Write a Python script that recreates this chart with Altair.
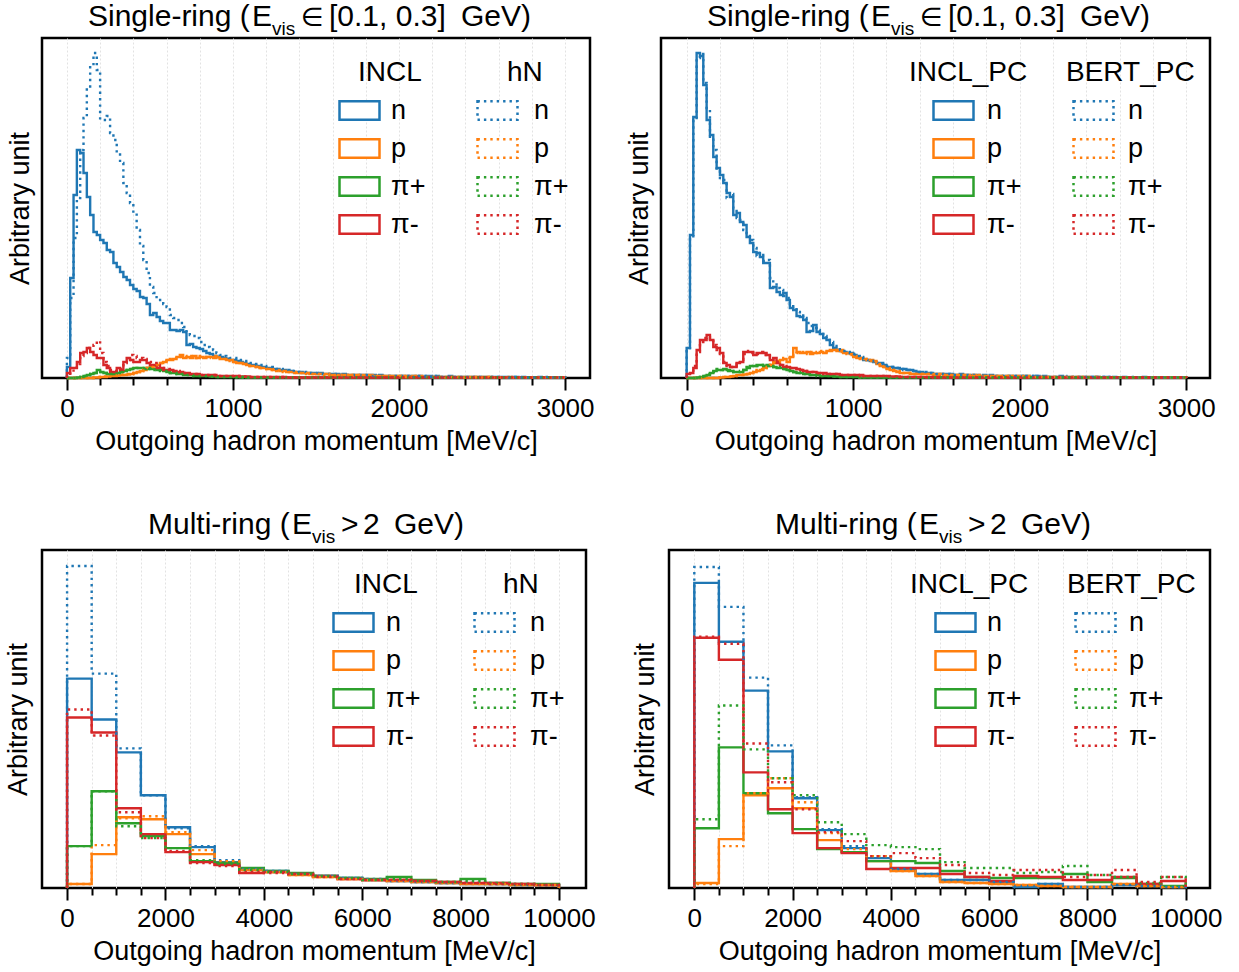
import altair as alt
import pandas as pd

PARTICLES = ["n", "p", "π+", "π-"]
COLORS = ["#1f77b4", "#ff7f0e", "#2ca02c", "#d62728"]
TOP_EDGES = list(range(0, 3001, 20))
BOT_EDGES = list(range(0, 10001, 500))
TOP_TICKS = list(range(0, 3001, 200))
BOT_TICKS = list(range(0, 10001, 500))

# ---------------- Single-ring, INCL (solid) vs hN (dotted) ----------------
TL_INCL_n = [
    11, 100, 183, 228, 225, 205, 181, 163, 146, 143,
    138, 135, 128, 126, 115, 111, 106, 101, 98, 93,
    89, 87, 81, 80, 74, 63, 65, 61, 57, 55,
    55, 48, 48, 47, 48, 46, 33, 34, 31, 30,
    29, 27, 25, 24, 22, 21, 21, 20, 19, 18,
    18, 17, 16, 15, 14, 13, 13, 12, 11, 11,
    10, 10, 9, 9, 8, 8, 7, 7, 6, 6,
    6, 5, 5, 5, 5, 4, 5, 4, 4, 4,
    4, 4, 3, 4, 3, 3, 3, 3, 3, 3,
    3, 3, 3, 2, 3, 2, 2, 2, 2, 2,
    2, 2, 2, 2, 2, 2, 2, 1, 2, 2,
    1, 2, 1, 1, 1, 2, 1, 1, 1, 1,
    1, 1, 1, 1, 1, 1, 1, 1, 1, 1,
    1, 1, 1, 0.5, 1, 1, 0.5, 1, 0.5, 0.5,
    0.5, 0.5, 1, 0.5, 0.5, 0.5, 0.5, 0.5, 0.5, 0.5]
TL_hN_n = [
    20, 80, 140, 180, 228, 260, 290, 312, 325, 308,
    258, 258, 262, 245, 238, 225, 215, 195, 185, 175,
    165, 148, 132, 118, 105, 91, 85, 78, 78, 74,
    71, 63, 60, 58, 55, 51, 46, 43, 42, 40,
    36, 33, 31, 30, 28, 25, 23, 22, 21, 20,
    20, 19, 18, 17, 16, 15, 14, 13, 13, 12,
    11, 11, 10, 9, 9, 8, 8, 7, 7, 6,
    6, 6, 5, 5, 5, 5, 4, 4, 4, 4,
    4, 4, 3, 3, 3, 3, 3, 3, 3, 3,
    3, 2, 3, 2, 2, 2, 2, 2, 2, 2,
    2, 2, 2, 2, 1, 2, 2, 2, 1, 1,
    2, 1, 1, 1, 1, 1, 1, 1, 1, 1,
    1, 1, 1, 1, 1, 1, 0.5, 1, 1, 1,
    1, 0.5, 1, 0.5, 0.5, 1, 0.5, 0.5, 0.5, 0.5,
    0.5, 0.5, 0.5, 0.5, 1, 0.5, 0.5, 0.5, 0.5, 0.5]
TL_INCL_p = [
    0, 0, 0, 0, 0, 0, 0, 0, 0.5, 0.5,
    1, 1, 1.5, 2, 2, 2.5, 3, 3, 3.5, 4,
    5, 6, 7, 8, 10, 11, 12, 13, 15, 16,
    18, 18, 19, 21, 23, 20, 21, 20, 22, 20,
    21, 20, 21, 21, 20, 21, 19, 19, 18, 18,
    16, 15, 15, 14, 13, 12, 12, 11, 10, 10,
    9, 9, 8, 8, 7, 7, 6, 6, 6, 5,
    5, 5, 5, 4, 4, 4, 4, 4, 4, 3,
    3, 3, 3, 3, 3, 3, 3, 3, 2, 3,
    2, 3, 2, 2, 2, 2, 2, 2, 2, 2,
    2, 2, 2, 1, 2, 1, 2, 1, 1, 1,
    1, 1, 1, 1, 1, 1, 1, 0.5, 1, 1,
    1, 0.5, 1, 1, 0.5, 1, 0.5, 1, 0.5, 0.5,
    0.5, 0.5, 0.5, 1, 0.5, 0.5, 0.5, 0.5, 0.5, 0.5,
    0.5, 0.5, 0.5, 0.5, 0.5, 0.5, 0.5, 0.5, 0.5, 0.5]
TL_hN_p = [
    0, 0, 0, 0, 0, 0, 0, 0, 0.5, 1,
    1, 1.5, 2, 2, 2.5, 3, 3, 3.5, 4, 4,
    5, 6, 7, 9, 10, 11, 13, 14, 15, 17,
    18, 19, 20, 20, 21, 22, 21, 22, 20, 21,
    22, 21, 20, 21, 22, 20, 20, 19, 18, 17,
    16, 16, 15, 14, 13, 12, 11, 11, 10, 9,
    9, 8, 8, 7, 7, 6, 6, 6, 5, 5,
    5, 5, 4, 4, 4, 4, 4, 3, 4, 3,
    3, 3, 3, 3, 3, 2, 3, 3, 2, 2,
    2, 2, 2, 2, 2, 2, 2, 2, 1, 2,
    2, 1, 2, 1, 1, 2, 1, 1, 1, 1,
    1, 1, 1, 1, 0.5, 1, 1, 1, 1, 0.5,
    1, 1, 0.5, 1, 0.5, 0.5, 1, 0.5, 0.5, 0.5,
    0.5, 0.5, 0.5, 0.5, 0.5, 0.5, 0.5, 0.5, 0.5, 0.5,
    0.5, 0.5, 0.5, 0.5, 0.5, 0.5, 0.5, 0.5, 0.5, 0.5]
TL_INCL_pip = [
    0, 0, 0, 0.5, 1, 2, 3, 4, 5, 8,
    6, 5, 4, 4, 4, 5, 6, 7, 8, 9,
    10, 10, 10, 9, 10, 9, 9, 8, 8, 7,
    6, 5, 5, 4, 4, 3, 3, 3, 2, 2,
    2, 2, 2, 1.5, 1.5, 1, 1, 1, 1, 1,
    1, 1, 0.5, 1, 0.5, 0.5, 0.5, 0.5, 0.5, 0.5,
    0.5, 0.5, 0.5, 0.5, 0.5, 0.5, 0.5, 0.5, 0.5, 0.5,
    0.5, 0.5, 0.5, 0.5, 0.5, 0.5, 0.5, 0.5, 0.5, 0.5,
    0.5, 0.5, 0.5, 0.5, 0.5, 0.5, 0.5, 0.5, 0.5, 0.5,
    0.5, 0.5, 0.5, 0.5, 0.5, 0.5, 0.5, 0.5, 0.5, 0.5,
    0.5, 0.5, 0.5, 0.5, 0.5, 0.5, 0.5, 0.5, 0.5, 0.5,
    0.5, 0.5, 0.5, 0.5, 0.5, 0.5, 0.5, 0.5, 0.5, 0.5,
    0.5, 0.5, 0.5, 0.5, 0.5, 0.5, 0.5, 0.5, 0.5, 0.5,
    0.5, 0.5, 0.5, 0.5, 0.5, 0.5, 0.5, 0.5, 0.5, 0.5,
    0.5, 0.5, 0.5, 0.5, 0.5, 0.5, 0.5, 0.5, 0.5, 0.5]
TL_hN_pip = [
    0, 0, 0, 0.5, 1, 2, 3, 4, 5, 6,
    6, 5, 4, 4, 5, 5, 6, 7, 8, 9,
    9, 10, 10, 10, 9, 9, 8, 8, 7, 7,
    6, 5, 5, 4, 4, 3, 3, 3, 2, 2,
    2, 2, 2, 1.5, 1.5, 1, 1, 1, 1, 1,
    1, 0.5, 1, 0.5, 0.5, 0.5, 0.5, 0.5, 0.5, 0.5,
    0.5, 0.5, 0.5, 0.5, 0.5, 0.5, 0.5, 0.5, 0.5, 0.5,
    0.5, 0.5, 0.5, 0.5, 0.5, 0.5, 0.5, 0.5, 0.5, 0.5,
    0.5, 0.5, 0.5, 0.5, 0.5, 0.5, 0.5, 0.5, 0.5, 0.5,
    0.5, 0.5, 0.5, 0.5, 0.5, 0.5, 0.5, 0.5, 0.5, 0.5,
    0.5, 0.5, 0.5, 0.5, 0.5, 0.5, 0.5, 0.5, 0.5, 0.5,
    0.5, 0.5, 0.5, 0.5, 0.5, 0.5, 0.5, 0.5, 0.5, 0.5,
    0.5, 0.5, 0.5, 0.5, 0.5, 0.5, 0.5, 0.5, 0.5, 0.5,
    0.5, 0.5, 0.5, 0.5, 0.5, 0.5, 0.5, 0.5, 0.5, 0.5,
    0.5, 0.5, 0.5, 0.5, 0.5, 0.5, 0.5, 0.5, 0.5, 0.5]
TL_INCL_pim = [
    5, 10, 10, 16, 25, 26, 30, 26, 23, 20,
    20, 13, 10, 6, 6, 10, 8, 16, 20, 18,
    16, 16, 18, 18, 15, 13, 13, 10, 10, 8,
    8, 8, 7, 6, 6, 5, 5, 4, 4, 4,
    3, 3, 3, 3, 3, 2, 2, 2, 2, 2,
    2, 2, 1.5, 1.5, 1.5, 1, 1, 1, 1, 1,
    1, 1, 1, 1, 0.5, 1, 0.5, 0.5, 0.5, 0.5,
    0.5, 0.5, 0.5, 0.5, 0.5, 0.5, 0.5, 0.5, 0.5, 0.5,
    0.5, 0.5, 0.5, 0.5, 0.5, 0.5, 0.5, 0.5, 0.5, 0.5,
    0.5, 0.5, 0.5, 0.5, 0.5, 0.5, 0.5, 0.5, 0.5, 0.5,
    0.5, 0.5, 0.5, 0.5, 0.5, 0.5, 0.5, 0.5, 0.5, 0.5,
    0.5, 0.5, 0.5, 0.5, 0.5, 0.5, 0.5, 0.5, 0.5, 0.5,
    0.5, 0.5, 0.5, 0.5, 0.5, 0.5, 0.5, 0.5, 0.5, 0.5,
    0.5, 0.5, 0.5, 0.5, 0.5, 0.5, 0.5, 0.5, 0.5, 0.5,
    0.5, 0.5, 0.5, 0.5, 0.5, 0.5, 0.5, 0.5, 0.5, 0.5]
TL_hN_pim = [
    3, 6, 9, 14, 22, 25, 30, 30, 33, 37,
    25, 16, 12, 8, 7, 8, 9, 15, 18, 23,
    22, 20, 20, 19, 18, 16, 15, 13, 11, 10,
    9, 8, 7, 7, 6, 5, 5, 4, 4, 4,
    3, 3, 3, 3, 3, 2, 2, 2, 2, 2,
    2, 2, 2, 1.5, 1.5, 1, 1, 1, 1, 1,
    1, 1, 1, 0.5, 1, 0.5, 0.5, 0.5, 0.5, 0.5,
    0.5, 0.5, 0.5, 0.5, 0.5, 0.5, 0.5, 0.5, 0.5, 0.5,
    0.5, 0.5, 0.5, 0.5, 0.5, 0.5, 0.5, 0.5, 0.5, 0.5,
    0.5, 0.5, 0.5, 0.5, 0.5, 0.5, 0.5, 0.5, 0.5, 0.5,
    0.5, 0.5, 0.5, 0.5, 0.5, 0.5, 0.5, 0.5, 0.5, 0.5,
    0.5, 0.5, 0.5, 0.5, 0.5, 0.5, 0.5, 0.5, 0.5, 0.5,
    0.5, 0.5, 0.5, 0.5, 0.5, 0.5, 0.5, 0.5, 0.5, 0.5,
    0.5, 0.5, 0.5, 0.5, 0.5, 0.5, 0.5, 0.5, 0.5, 0.5,
    0.5, 0.5, 0.5, 0.5, 0.5, 0.5, 0.5, 0.5, 0.5, 0.5]

# ---------------- Single-ring, INCL_PC (solid) vs BERT_PC (dotted) ----------------
TR_INCL_n = [
    30, 143, 261, 325, 322, 293, 258, 243, 221, 210,
    203, 195, 185, 181, 163, 165, 156, 153, 141, 135,
    126, 125, 121, 115, 115, 90, 91, 86, 83, 85,
    78, 70, 68, 62, 61, 58, 46, 47, 53, 46,
    44, 40, 38, 33, 30, 28, 27, 26, 25, 25,
    23, 21, 20, 18, 18, 17, 16, 15, 15, 13,
    11, 11, 10, 10, 9, 9, 8, 8, 7, 6,
    6, 5, 5, 5, 4, 4, 4, 4, 4, 4,
    3, 3, 4, 3, 3, 3, 3, 3, 2, 3,
    2, 3, 2, 2, 2, 2, 2, 2, 2, 2,
    2, 2, 2, 1, 2, 2, 1, 2, 1, 1,
    1, 1, 2, 1, 1, 1, 1, 1, 1, 1,
    1, 1, 1, 1, 0.5, 1, 1, 0.5, 1, 0.5,
    0.5, 1, 0.5, 0.5, 0.5, 0.5, 0.5, 1, 0.5, 0.5,
    0.5, 0.5, 0.5, 0.5, 0.5, 0.5, 0.5, 0.5, 0.5, 0.5]
TR_BERT_n = [
    28, 140, 258, 320, 324, 295, 270, 240, 228, 208,
    200, 198, 180, 184, 170, 160, 158, 148, 145, 138,
    130, 122, 125, 117, 118, 100, 95, 90, 88, 82,
    80, 74, 70, 66, 64, 60, 55, 52, 50, 48,
    46, 42, 40, 36, 32, 30, 28, 27, 26, 25,
    24, 22, 21, 19, 18, 17, 16, 15, 14, 13,
    12, 11, 10, 10, 9, 8, 8, 7, 7, 6,
    6, 6, 5, 5, 5, 4, 4, 4, 4, 3,
    3, 3, 3, 3, 3, 3, 3, 2, 3, 2,
    2, 2, 2, 2, 2, 2, 2, 2, 2, 2,
    2, 1, 2, 2, 1, 2, 1, 1, 1, 1,
    1, 1, 1, 2, 1, 1, 1, 1, 1, 1,
    1, 1, 0.5, 1, 1, 1, 0.5, 1, 0.5, 1,
    0.5, 0.5, 0.5, 0.5, 1, 0.5, 0.5, 0.5, 0.5, 0.5,
    0.5, 0.5, 0.5, 0.5, 0.5, 0.5, 0.5, 0.5, 0.5, 0.5]
TR_INCL_p = [
    0, 0, 0, 0, 0, 0, 0, 0, 0, 0,
    0.5, 1, 1, 1.5, 2, 3, 3, 3.5, 4, 5,
    6, 7, 8, 10, 12, 13, 15, 17, 18, 19,
    16, 21, 30, 26, 25, 25, 26, 24, 25, 25,
    26, 25, 27, 28, 28, 27, 28, 25, 25, 24,
    21, 20, 20, 19, 18, 18, 17, 14, 12, 11,
    9, 8, 7, 6, 5, 5, 5, 4, 4, 4,
    4, 4, 4, 4, 4, 3, 4, 3, 3, 3,
    3, 3, 3, 3, 3, 2, 3, 2, 2, 2,
    2, 2, 2, 2, 2, 1, 2, 2, 1, 2,
    1, 1, 2, 1, 1, 1, 1, 1, 1, 1,
    1, 1, 1, 0.5, 1, 1, 0.5, 1, 1, 0.5,
    1, 0.5, 0.5, 1, 0.5, 0.5, 0.5, 0.5, 0.5, 0.5,
    0.5, 0.5, 0.5, 0.5, 0.5, 0.5, 0.5, 0.5, 0.5, 0.5,
    0.5, 0.5, 0.5, 0.5, 0.5, 0.5, 0.5, 0.5, 0.5, 0.5]
TR_BERT_p = [
    0, 0, 0, 0, 0, 0, 0, 0, 0, 0.5,
    0.5, 1, 1.5, 1.5, 2, 2.5, 3, 4, 4, 5,
    6, 8, 9, 10, 11, 13, 16, 16, 18, 20,
    20, 22, 24, 25, 26, 24, 25, 26, 25, 26,
    27, 26, 26, 27, 27, 28, 26, 26, 24, 23,
    22, 21, 19, 19, 18, 17, 16, 15, 13, 11,
    10, 9, 8, 7, 6, 5, 5, 5, 4, 4,
    4, 4, 4, 4, 3, 4, 3, 3, 3, 3,
    3, 3, 3, 3, 2, 3, 2, 3, 2, 2,
    2, 2, 2, 2, 1, 2, 2, 1, 2, 1,
    1, 2, 1, 1, 1, 1, 1, 1, 1, 1,
    1, 1, 0.5, 1, 1, 1, 0.5, 1, 0.5, 1,
    0.5, 0.5, 1, 0.5, 0.5, 0.5, 0.5, 0.5, 0.5, 0.5,
    0.5, 0.5, 0.5, 0.5, 0.5, 0.5, 0.5, 0.5, 0.5, 0.5,
    0.5, 0.5, 0.5, 0.5, 0.5, 0.5, 0.5, 0.5, 0.5, 0.5]
TR_INCL_pip = [
    0, 0, 0, 0.5, 1, 2, 3, 5, 7, 8,
    8, 9, 8, 7, 6, 6, 6, 8, 10, 12,
    12, 13, 13, 12, 13, 12, 11, 10, 10, 9,
    8, 7, 6, 5, 5, 4, 4, 3, 3, 3,
    2, 2, 2, 2, 1.5, 1.5, 1, 1, 1, 1,
    1, 1, 0.5, 1, 0.5, 0.5, 0.5, 0.5, 0.5, 0.5,
    0.5, 0.5, 0.5, 0.5, 0.5, 0.5, 0.5, 0.5, 0.5, 0.5,
    0.5, 0.5, 0.5, 0.5, 0.5, 0.5, 0.5, 0.5, 0.5, 0.5,
    0.5, 0.5, 0.5, 0.5, 0.5, 0.5, 0.5, 0.5, 0.5, 0.5,
    0.5, 0.5, 0.5, 0.5, 0.5, 0.5, 0.5, 0.5, 0.5, 0.5,
    0.5, 0.5, 0.5, 0.5, 0.5, 0.5, 0.5, 0.5, 0.5, 0.5,
    0.5, 0.5, 0.5, 0.5, 0.5, 0.5, 0.5, 0.5, 0.5, 0.5,
    0.5, 0.5, 0.5, 0.5, 0.5, 0.5, 0.5, 0.5, 0.5, 0.5,
    0.5, 0.5, 0.5, 0.5, 0.5, 0.5, 0.5, 0.5, 0.5, 0.5,
    0.5, 0.5, 0.5, 0.5, 0.5, 0.5, 0.5, 0.5, 0.5, 0.5]
TR_BERT_pip = [
    0, 0, 0, 0.5, 1, 2, 4, 5, 6, 9,
    8, 8, 7, 7, 6, 6, 7, 8, 11, 12,
    13, 12, 13, 13, 12, 12, 11, 11, 9, 9,
    8, 7, 6, 6, 5, 4, 4, 3, 3, 2,
    2, 2, 2, 1.5, 1.5, 1, 1, 1, 1, 1,
    1, 0.5, 1, 0.5, 0.5, 0.5, 0.5, 0.5, 0.5, 0.5,
    0.5, 0.5, 0.5, 0.5, 0.5, 0.5, 0.5, 0.5, 0.5, 0.5,
    0.5, 0.5, 0.5, 0.5, 0.5, 0.5, 0.5, 0.5, 0.5, 0.5,
    0.5, 0.5, 0.5, 0.5, 0.5, 0.5, 0.5, 0.5, 0.5, 0.5,
    0.5, 0.5, 0.5, 0.5, 0.5, 0.5, 0.5, 0.5, 0.5, 0.5,
    0.5, 0.5, 0.5, 0.5, 0.5, 0.5, 0.5, 0.5, 0.5, 0.5,
    0.5, 0.5, 0.5, 0.5, 0.5, 0.5, 0.5, 0.5, 0.5, 0.5,
    0.5, 0.5, 0.5, 0.5, 0.5, 0.5, 0.5, 0.5, 0.5, 0.5,
    0.5, 0.5, 0.5, 0.5, 0.5, 0.5, 0.5, 0.5, 0.5, 0.5,
    0.5, 0.5, 0.5, 0.5, 0.5, 0.5, 0.5, 0.5, 0.5, 0.5]
TR_INCL_pim = [
    4, 5, 10, 28, 38, 38, 43, 38, 31, 30,
    25, 15, 13, 11, 11, 15, 16, 26, 26, 26,
    23, 25, 25, 25, 23, 18, 20, 15, 13, 11,
    11, 10, 10, 9, 8, 7, 6, 6, 6, 5,
    5, 5, 4, 4, 4, 4, 3, 3, 3, 3,
    3, 3, 3, 2, 2, 2, 2, 2, 2, 2,
    2, 1.5, 1.5, 1.5, 1, 1, 1, 1, 1, 1,
    1, 1, 1, 1, 0.5, 1, 0.5, 0.5, 0.5, 0.5,
    0.5, 0.5, 0.5, 0.5, 0.5, 0.5, 0.5, 0.5, 0.5, 0.5,
    0.5, 0.5, 0.5, 0.5, 0.5, 0.5, 0.5, 0.5, 0.5, 0.5,
    0.5, 0.5, 0.5, 0.5, 0.5, 0.5, 0.5, 0.5, 0.5, 0.5,
    0.5, 0.5, 0.5, 0.5, 0.5, 0.5, 0.5, 0.5, 0.5, 0.5,
    0.5, 0.5, 0.5, 0.5, 0.5, 0.5, 0.5, 0.5, 0.5, 0.5,
    0.5, 0.5, 0.5, 0.5, 0.5, 0.5, 0.5, 0.5, 0.5, 0.5,
    0.5, 0.5, 0.5, 0.5, 0.5, 0.5, 0.5, 0.5, 0.5, 0.5]
TR_BERT_pim = [
    3, 6, 12, 26, 36, 40, 41, 39, 33, 28,
    24, 16, 12, 11, 12, 14, 18, 24, 27, 25,
    24, 24, 26, 23, 22, 20, 18, 16, 13, 12,
    10, 10, 9, 9, 8, 7, 7, 6, 5, 5,
    5, 4, 4, 4, 4, 3, 3, 3, 3, 3,
    3, 2, 3, 2, 2, 2, 2, 2, 2, 2,
    1.5, 1.5, 1.5, 1, 1, 1, 1, 1, 1, 1,
    1, 1, 0.5, 1, 0.5, 0.5, 1, 0.5, 0.5, 0.5,
    0.5, 0.5, 0.5, 0.5, 0.5, 0.5, 0.5, 0.5, 0.5, 0.5,
    0.5, 0.5, 0.5, 0.5, 0.5, 0.5, 0.5, 0.5, 0.5, 0.5,
    0.5, 0.5, 0.5, 0.5, 0.5, 0.5, 0.5, 0.5, 0.5, 0.5,
    0.5, 0.5, 0.5, 0.5, 0.5, 0.5, 0.5, 0.5, 0.5, 0.5,
    0.5, 0.5, 0.5, 0.5, 0.5, 0.5, 0.5, 0.5, 0.5, 0.5,
    0.5, 0.5, 0.5, 0.5, 0.5, 0.5, 0.5, 0.5, 0.5, 0.5,
    0.5, 0.5, 0.5, 0.5, 0.5, 0.5, 0.5, 0.5, 0.5, 0.5]

# ---------------- Multi-ring, INCL (solid) vs hN (dotted) ----------------
BL_INCL_n = [210, 169, 136, 93, 61, 41, 26, 19, 17, 14, 12, 10, 8, 7, 6, 5, 4, 4, 3, 3]
BL_hN_n = [323, 215, 140, 93, 60, 42, 28, 19, 17, 14, 12, 10, 9, 7, 6, 5, 5, 4, 3, 3]
BL_INCL_p = [4, 34, 71, 69, 54, 34, 25, 18, 16, 13, 11, 9, 8, 7, 6, 5, 4, 4, 3, 3]
BL_hN_p = [4, 43, 70, 72, 56, 38, 27, 18, 16, 13, 11, 9, 8, 7, 6, 5, 4, 4, 3, 3]
BL_INCL_pip = [42, 97, 65, 52, 40, 27, 25, 20, 17, 15, 12, 10, 9, 11, 8, 6, 9, 5, 4, 4]
BL_hN_pip = [42, 97, 62, 50, 40, 28, 24, 18, 16, 14, 12, 10, 8, 9, 7, 6, 7, 5, 4, 3]
BL_INCL_pim = [171, 156, 80, 54, 36, 26, 23, 15, 16, 14, 12, 9, 8, 8, 7, 6, 5, 5, 4, 3]
BL_hN_pim = [179, 153, 76, 50, 37, 25, 22, 16, 15, 14, 11, 9, 8, 8, 7, 6, 5, 4, 4, 3]

# ---------------- Multi-ring, INCL_PC (solid) vs BERT_PC (dotted) ----------------
BR_INCL_n = [306, 247, 198, 137, 90, 58, 40, 30, 18, 14, 8, 8, 6, 1, 4, 1, 1, 3, 2, 1]
BR_BERT_n = [322, 282, 211, 143, 91, 59, 42, 32, 19, 14, 8, 8, 6, 2, 4, 1, 1, 3, 2, 1]
BR_INCL_p = [5, 49, 93, 100, 80, 48, 36, 27, 17, 12, 6, 5, 4, 3, 2, 1, 1, 4, 2, 1]
BR_BERT_p = [4, 42, 95, 110, 86, 55, 39, 32, 17, 12, 6, 5, 4, 3, 2, 1, 1, 4, 2, 1]
BR_INCL_pip = [60, 141, 95, 75, 59, 39, 36, 27, 27, 25, 17, 11, 10, 10, 10, 14, 6, 10, 4, 2]
BR_BERT_pip = [69, 183, 139, 110, 93, 66, 54, 43, 41, 39, 26, 20, 20, 15, 16, 22, 13, 11, 5, 11]
BR_INCL_pim = [251, 229, 116, 79, 55, 40, 35, 19, 20, 20, 14, 11, 7, 12, 11, 8, 8, 11, 4, 7]
BR_BERT_pim = [252, 245, 145, 106, 79, 56, 47, 32, 35, 30, 23, 15, 13, 18, 18, 11, 13, 18, 6, 11]

FONT = "Liberation Sans"
MATH_FONT = "DejaVu Sans"
X_TITLE = "Outgoing hadron momentum [MeV/c]"
Y_TITLE = "Arbitrary unit"
LW = 2.4
DOT = [2.4, 4]


def hist_df(edges, series):
    rows = []
    for particle, vals in zip(PARTICLES, series):
        rows.append({"x": edges[0], "y": 0, "o": 0, "particle": particle})
        for i, v in enumerate(vals):
            rows.append({"x": edges[i], "y": v, "o": i + 1, "particle": particle})
        rows.append({"x": edges[len(vals)], "y": 0, "o": len(vals) + 1, "particle": particle})
    return pd.DataFrame(rows)


def rect_path(left, right, half_h=1.15):
    return f"M{left},{-half_h}H{right}V{half_h}H{left}Z"


def make_legend(title, lx, ly, left, right, label_offset, dash=None):
    kw = dict(
        title=title, orient="none", legendX=lx, legendY=ly,
        titleAnchor="start", titleFontSize=28, titleFont=FONT, titleFontWeight="normal",
        titleColor="black", titlePadding=10,
        symbolType=rect_path(left, right), symbolSize=256, symbolStrokeWidth=2.5,
        symbolFillColor="white", symbolOpacity=1,
        labelFontSize=27, labelFont=FONT, labelColor="black", labelOffset=label_offset,
        rowPadding=9, padding=0,
    )
    if dash is not None:
        kw["symbolDash"] = dash
    return alt.Legend(**kw)


def panel(solid, dotted, edges, xdom, ydom, ticks, label_every, width, height,
          leg1, leg2, title_parts, ytitle_pad):
    df_s = hist_df(edges, solid)
    df_d = hist_df(edges, dotted)
    x_axis = alt.Axis(
        values=ticks,
        labelExpr=f"datum.value % {label_every} === 0 ? datum.value : ''",
        title=X_TITLE, grid=True, gridDash=[2, 2], gridColor="#e2e2e2", gridWidth=1,
        tickColor="black", tickWidth=2,
        tickSize={"condition": {"test": f"datum.value % {label_every} === 0", "value": 12}, "value": 7},
        domain=False, labelFontSize=26, labelFont=FONT, labelColor="black",
        labelPadding=5, labelOverlap=False, labelFlush=False, labelBound=False,
        titleFontSize=27, titleFont=FONT, titleFontWeight="normal", titleColor="black",
        titlePadding=7,
    )
    y_axis = alt.Axis(title=Y_TITLE, labels=False, ticks=False, domain=False, grid=False,
                      titleFontSize=27, titleFont=FONT, titleFontWeight="normal",
                      titleColor="black", titlePadding=ytitle_pad)
    xs = alt.Scale(domain=xdom, nice=False, zero=False)
    ys = alt.Scale(domain=ydom, nice=False, zero=False)
    cs = alt.Scale(domain=PARTICLES, range=COLORS)
    solid_layer = alt.Chart(df_s).mark_line(interpolate="step-after", strokeWidth=LW).encode(
        x=alt.X("x:Q", scale=xs, axis=x_axis),
        y=alt.Y("y:Q", scale=ys, axis=y_axis),
        color=alt.Color("particle:N", scale=cs, legend=leg1),
        order="o:Q",
    )
    dotted_layer = alt.Chart(df_d).mark_line(
        interpolate="step-after", strokeWidth=LW, strokeDash=DOT
    ).encode(
        x=alt.X("x:Q", scale=xs, axis=x_axis),
        y=alt.Y("y:Q", scale=ys, axis=y_axis),
        color=alt.Color("particle:N", scale=cs, legend=leg2),
        order="o:Q",
    )
    layers = [solid_layer, dotted_layer]
    for text, px, py, size, align, font in title_parts:
        layers.append(
            alt.Chart(pd.DataFrame({"t": [text]})).mark_text(
                align=align, baseline="alphabetic", fontSize=size, font=font, color="black"
            ).encode(text="t:N", x=alt.value(px), y=alt.value(py))
        )
    return alt.layer(*layers).resolve_scale(color="independent").properties(
        width=width, height=height
    )


SR_TITLE = [("Single-ring (", 46, -12, 30, "left", FONT),
            ("E", 210, -12, 30, "left", FONT),
            ("vis", 230, -3, 19, "left", FONT),
            ("∈", 259, -12, 26, "left", MATH_FONT),
            ("[0.1, 0.3]", 287, -12, 30, "left", FONT),
            ("GeV)", 419, -12, 30, "left", FONT)]
MR_TITLE = [("Multi-ring (", 106, -16, 30, "left", FONT),
            ("E", 250, -16, 30, "left", FONT),
            ("vis", 270, -7, 19, "left", FONT),
            (">", 299, -16, 30, "left", FONT),
            ("2", 321, -16, 30, "left", FONT),
            ("GeV)", 352, -16, 30, "left", FONT)]

tl = panel(
    [TL_INCL_n, TL_INCL_p, TL_INCL_pip, TL_INCL_pim],
    [TL_hN_n, TL_hN_p, TL_hN_pip, TL_hN_pim],
    TOP_EDGES, [-150, 3150], [0, 340], TOP_TICKS, 1000, 548, 340,
    make_legend("INCL", 316, 21, -4.0, 1.0, 6),
    make_legend("hN", 465, 21, -5.375, -0.375, 0, dash=DOT),
    SR_TITLE, 8,
)
tr = panel(
    [TR_INCL_n, TR_INCL_p, TR_INCL_pip, TR_INCL_pim],
    [TR_BERT_n, TR_BERT_p, TR_BERT_pip, TR_BERT_pim],
    TOP_EDGES, [-154, 3143], [0, 340], TOP_TICKS, 1000, 549, 340,
    make_legend("INCL_PC", 248, 21, 1.375, 6.375, 51),
    make_legend("BERT_PC", 405, 21, -0.75, 4.25, 35, dash=DOT),
    SR_TITLE, 8,
)
bl = panel(
    [BL_INCL_n, BL_INCL_p, BL_INCL_pip, BL_INCL_pim],
    [BL_hN_n, BL_hN_p, BL_hN_pip, BL_hN_pim],
    BOT_EDGES, [-510, 10550], [0, 339], BOT_TICKS, 2000, 544, 338,
    make_legend("INCL", 312, 21, -4.25, 0.75, 5),
    make_legend("hN", 461, 21, -5.25, -0.25, 0, dash=DOT),
    MR_TITLE, 10,
)
br = panel(
    [BR_INCL_n, BR_INCL_p, BR_INCL_pip, BR_INCL_pim],
    [BR_BERT_n, BR_BERT_p, BR_BERT_pip, BR_BERT_pim],
    BOT_EDGES, [-515, 10494], [0, 339], BOT_TICKS, 2000, 541, 338,
    make_legend("INCL_PC", 241, 21, 1.5, 6.5, 50),
    make_legend("BERT_PC", 398, 21, -0.625, 4.375, 35, dash=DOT),
    MR_TITLE, 10,
)

top = alt.hconcat(tl, tr, spacing=27).resolve_scale(x="independent", y="independent", color="independent")
bottom = alt.hconcat(bl, br, spacing=32).resolve_scale(x="independent", y="independent", color="independent")
chart = alt.vconcat(top, bottom, spacing=52).resolve_scale(
    x="independent", y="independent", color="independent"
).properties(
    padding={"left": 2, "top": 0, "right": 5, "bottom": 5}
).configure(font=FONT).configure_view(stroke="black", strokeWidth=2.5)

chart.save("out.html", embed_options={"renderer": "svg", "actions": False})
